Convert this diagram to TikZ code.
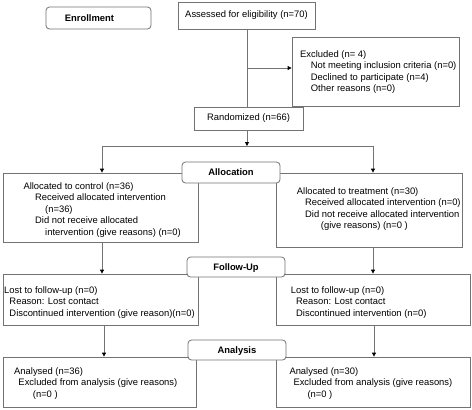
\documentclass[tikz,border=0pt]{standalone}
\usepackage{fontspec}
\setmainfont{Liberation Sans}
\usetikzlibrary{arrows.meta}
\definecolor{ln}{RGB}{115,115,115}
\begin{document}
\begin{tikzpicture}[x=1pt,y=-1pt,
  box/.style={draw=ln,line width=0.8pt,inner sep=0pt,font=\fontsize{9.4}{11.5}\selectfont},
  lab/.style={draw=ln,line width=0.8pt,rounded corners=3.5pt,fill=white,inner sep=0pt,
    minimum width=98pt,text height=6.8pt,text depth=0pt,font=\fontsize{9.4}{11.5}\selectfont\bfseries},
  txt/.style={anchor=base west,inner sep=0pt,font=\fontsize{9.4}{11.5}\selectfont},
  conn/.style={draw=ln,line width=0.8pt},
  arr/.style={conn,-{Triangle[length=4pt,width=4pt,color=black]}}]
\fill[white] (0,0) rectangle (472,410);
\useasboundingbox (0,0) rectangle (472,410);
% boxes
\node[box,minimum width=137pt,minimum height=27pt] (assess) at (246.5,15.5) {Assessed for eligibility (n=70)};
\node[box,minimum width=167pt,minimum height=69pt] (excl) at (375.5,71.5) {};
\node[box,minimum width=109pt,minimum height=23pt] (rand) at (248.5,118.5) {Randomized (n=66)};
\node[box,minimum width=195pt,minimum height=69pt] (ctrl) at (100.5,207.5) {};
\node[box,minimum width=186pt,minimum height=74pt] (treat) at (369,210) {};
\node[box,minimum width=195pt,minimum height=51pt] (lostL) at (100.5,299.5) {};
\node[box,minimum width=194pt,minimum height=51pt] (lostR) at (373,299.5) {};
\node[box,minimum width=193pt,minimum height=50pt] (anL) at (99.5,382) {};
\node[box,minimum width=194pt,minimum height=50pt] (anR) at (373,382) {};
% connectors
\coordinate (ex) at (247,68);
\coordinate (br) at (247,146);
\coordinate (bl) at (102,146);
\coordinate (brr) at (373,146);
\coordinate (dl) at (102,260);
\coordinate (dr) at (373,260);
\coordinate (el) at (104,340);
\coordinate (er) at (374,340);
\draw[conn] (assess.south -| br) -- (rand.north -| br);
\draw[arr] (ex) -- (ex -| excl.west);
\draw[arr] (rand.south -| br) -- (br);
\draw[conn] (bl) -- (brr);
\draw[arr] (bl) -- (bl |- ctrl.north);
\draw[arr] (brr) -- (brr |- treat.north);
\draw[arr] (dl |- ctrl.south) -- (dl |- lostL.north);
\draw[arr] (dr |- treat.south) -- (dr |- lostR.north);
\draw[arr] (el |- lostL.south) -- (el |- anL.north);
\draw[arr] (er |- lostR.south) -- (er |- anR.north);
% stage labels
\node[lab,minimum width=105pt,minimum height=22pt] (enroll) at (98.5,18) {};
\node[anchor=center,inner sep=0pt,text height=6.8pt,text depth=0pt,font=\fontsize{9.4}{11.5}\selectfont\bfseries] (enrolltxt) at (89.5,18) {Enrollment};
\node[lab,minimum height=21pt] (alloc) at (231,172.5) {Allocation};
\node[lab,minimum height=20pt] (fu) at (236,267) {Follow-Up};
\node[lab,minimum height=20pt] (an) at (237,350) {Analysis};
% texts
\node[txt] (excltxt) at (300,57.4) {\begin{tabular}[t]{@{}l@{}}Excluded (n= 4)\\\hspace*{10.7pt}Not meeting inclusion criteria (n=0)\\\hspace*{10.7pt}Declined to participate (n=4)\\\hspace*{10.7pt}Other reasons (n=0)\end{tabular}};
\node[txt] (ctrltxt) at (23.3,189.1) {\begin{tabular}[t]{@{}l@{}}Allocated to control (n=36)\\\hspace*{11.7pt}Received allocated intervention\\\hspace*{21.7pt}(n=36)\\\hspace*{11.7pt}Did not receive allocated\\\hspace*{21.7pt}intervention (give reasons) (n=0)\end{tabular}};
\node[txt] (treattxt) at (296.7,194.4) {\begin{tabular}[t]{@{}l@{}}Allocated to treatment (n=30)\\\hspace*{8.3pt}Received allocated intervention (n=0)\\\hspace*{8.3pt}Did not receive allocated intervention\\\hspace*{24pt}(give reasons) (n=0 )\end{tabular}};
\node[txt] (lostLtxt) at (4,293.4) {\begin{tabular}[t]{@{}l@{}}Lost to follow-up (n=0)\\\hspace*{5.3pt}Reason: Lost contact\\\hspace*{5.3pt}Discontinued intervention (give reason)(n=0)\end{tabular}};
\node[txt] (lostRtxt) at (290.7,293.4) {\begin{tabular}[t]{@{}l@{}}Lost to follow-up (n=0)\\\hspace*{5.3pt}Reason: Lost contact\\\hspace*{5.3pt}Discontinued intervention (n=0)\end{tabular}};
\node[txt] (anLtxt) at (14,374.4) {\begin{tabular}[t]{@{}l@{}}Analysed (n=36)\\\hspace*{4.3pt}Excluded from analysis (give reasons)\\\hspace*{18.7pt}(n=0 )\end{tabular}};
\node[txt] (anRtxt) at (289.3,374.4) {\begin{tabular}[t]{@{}l@{}}Analysed (n=30)\\\hspace*{4pt}Excluded from analysis (give reasons)\\\hspace*{18pt}(n=0 )\end{tabular}};
\end{tikzpicture}
\end{document}
